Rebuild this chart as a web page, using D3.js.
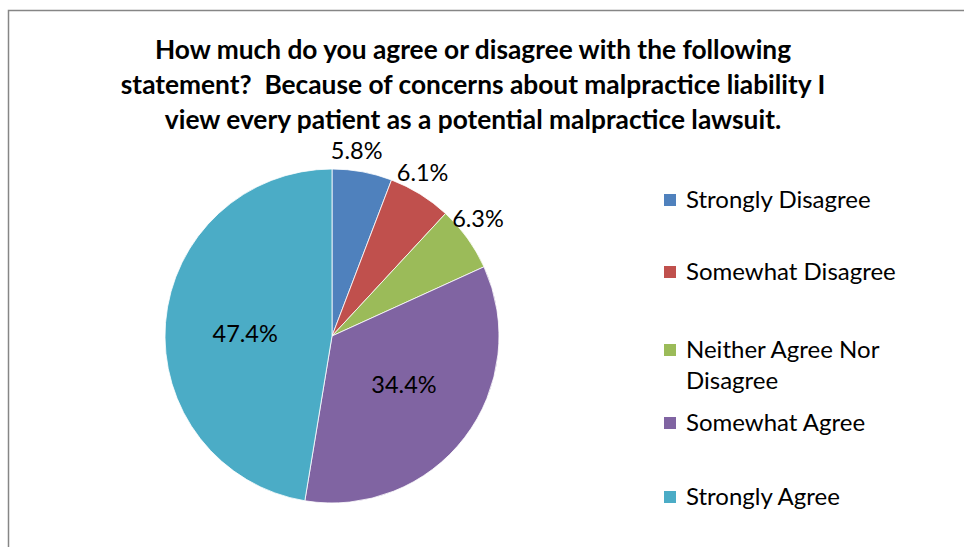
<!DOCTYPE html>
<html><head><meta charset="utf-8">
<script src="https://cdn.jsdelivr.net/npm/d3@7"></script>
<style>body{margin:0;background:#fff}svg{display:block}text{white-space:pre}</style>
</head><body>
<svg id="c" width="964" height="547"></svg>
<script>
const categories = ["Strongly Disagree","Somewhat Disagree","Neither Agree Nor Disagree","Somewhat Agree","Strongly Agree"];
const values = [5.8, 6.1, 6.3, 34.4, 47.4];
const labels = ["5.8%","6.1%","6.3%","34.4%","47.4%"];
const colors = ["#4F81BD","#C0504D","#9BBB59","#8064A2","#4BACC6"];
const legendLines = [["Strongly Disagree"],["Somewhat Disagree"],["Neither Agree Nor","Disagree"],["Somewhat Agree"],["Strongly Agree"]];
const titleLines = ["How much do you agree or disagree with the following","statement?  Because of concerns about malpractice liability I","view every patient as a potential malpractice lawsuit."];

const svg = d3.select("#c");
const font = "Lato, 'Open Sans', sans-serif";
svg.append("path").attr("d","M8.5,560 L8.5,10.5 L980,10.5").attr("fill","none").attr("stroke","#868686").attr("stroke-width",1.5);

svg.append("g").selectAll("text").data(titleLines).join("text")
  .attr("x",473).attr("y",(d,i)=>59+i*35).attr("text-anchor","middle")
  .attr("font-family",font).attr("font-weight","bold").attr("font-size",26.3).attr("fill","#000").text(d=>d);

const cx=332, cy=336, r=167;
const pie = d3.pie().sort(null).value(d=>d)(values);
const arc = d3.arc().innerRadius(0).outerRadius(r);
const g = svg.append("g").attr("transform",`translate(${cx},${cy})`);
g.selectAll("path").data(pie).join("path").attr("d",arc)
  .attr("fill",(d,i)=>colors[i]).attr("stroke","#fff").attr("stroke-width",0.8);

function outPos(d){
  const a = (d.startAngle+d.endAngle)/2 - 0.05, rr = r+20;
  return [rr*Math.sin(a), -rr*Math.cos(a)];
}
function inPos(d){
  const a = (d.startAngle+d.endAngle)/2 - 0.06, rr = r*0.52;
  return [rr*Math.sin(a), -rr*Math.cos(a)];
}
g.selectAll("text").data(pie).join("text")
  .attr("transform",(d,i)=>{const p=(i<3?outPos(d):inPos(d));return `translate(${p[0]},${p[1]})`;})
  .attr("text-anchor","middle").attr("dy","0.35em")
  .attr("font-family",font).attr("font-size",23.5).attr("fill","#000")
  .text((d,i)=>labels[i]);

const ly = [200,272,350,423,497];
const lg = svg.append("g");
legendLines.forEach((lines,i)=>{
  lg.append("rect").attr("x",664).attr("y",ly[i]-6).attr("width",12).attr("height",12).attr("fill",colors[i]);
  lines.forEach((t,j)=>{
    lg.append("text").attr("x",686).attr("y",ly[i]+j*31).attr("dy","0.35em")
      .attr("font-family",font).attr("font-size",24).attr("fill","#000").text(t);
  });
});
</script>
</body></html>
